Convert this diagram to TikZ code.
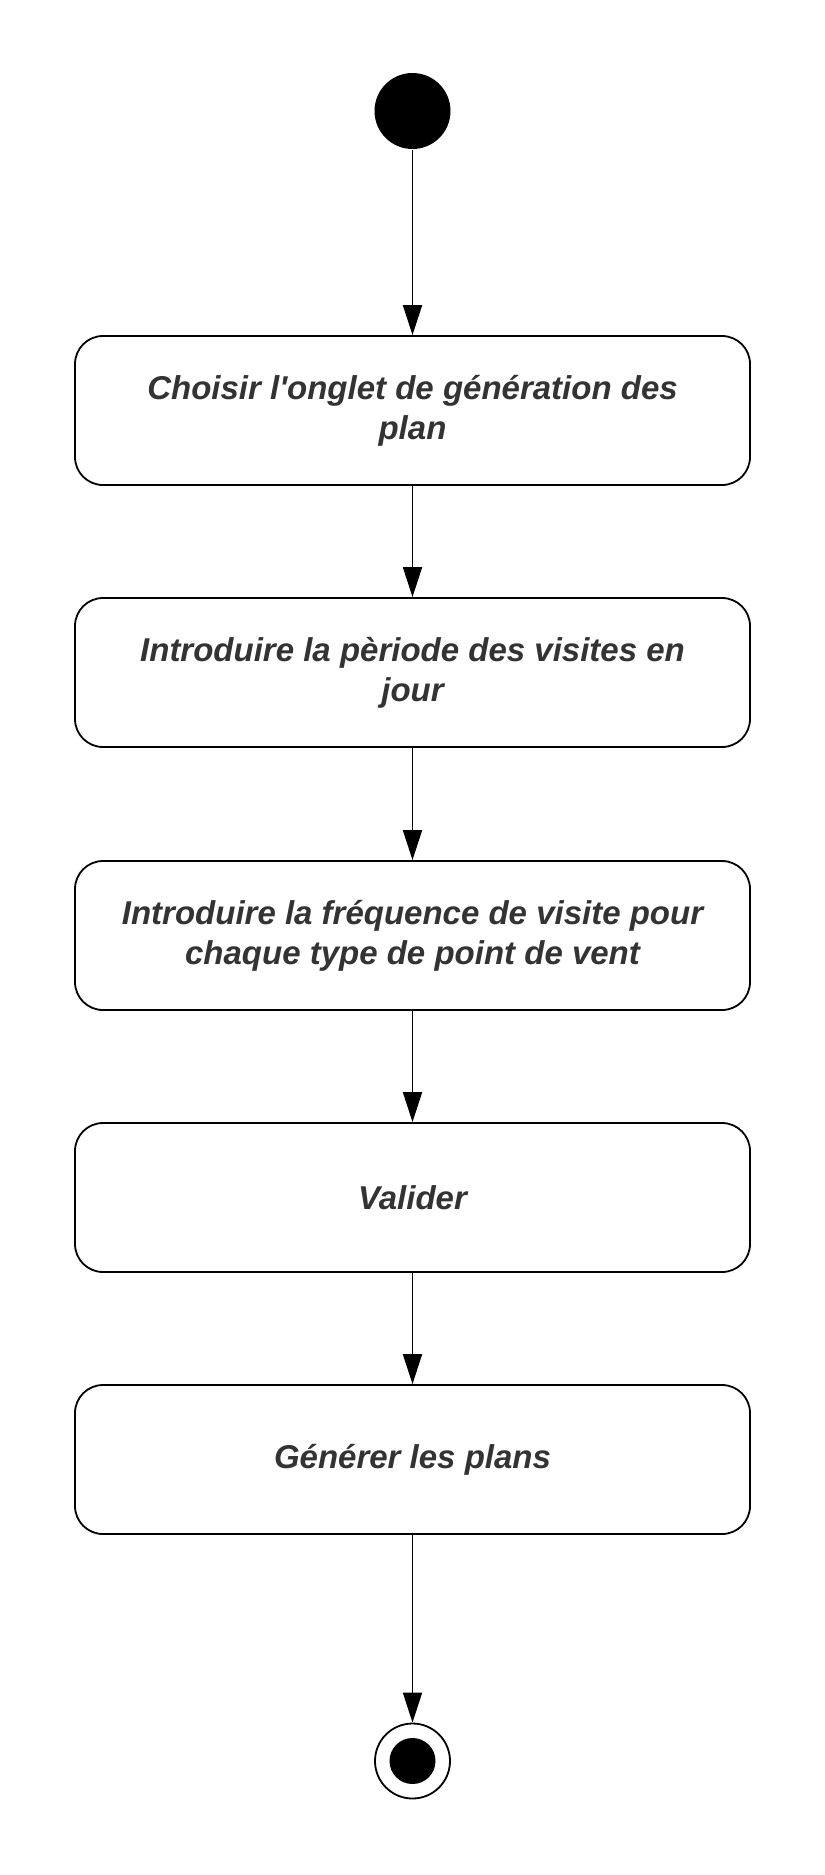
\documentclass[tikz,border=0pt]{standalone}
\usepackage{fontspec}
\setmainfont{Liberation Sans}
\usetikzlibrary{arrows.meta}
\definecolor{txtgray}{HTML}{333333}

\begin{document}
\begin{tikzpicture}[x=1pt,y=-1pt,line width=1.8pt,
  activity/.style={draw=black, rounded corners=28pt, minimum width=675pt, minimum height=149pt,
    align=center, text=txtgray, font=\fontsize{33}{40}\selectfont\bfseries\itshape, inner sep=0pt},
  flow/.style={-{Triangle[length=30pt,width=19pt]}}]
\useasboundingbox (0,0) rectangle (825,1875);
\node[circle, fill=black, minimum size=76pt, inner sep=0pt] (start) at (412.5,111) {};
\node[activity] (choisir) at (412.5,410.5) {Choisir l\textquotesingle onglet de génération des\\plan};
\node[activity] (periode) at (412.5,672.5) {Introduire la pèriode des visites en\\jour};
\node[activity] (frequence) at (412.5,935.5) {Introduire la fréquence de visite pour\\chaque type de point de vent};
\node[activity] (valider) at (412.5,1197.5) {Valider};
\node[activity] (generer) at (412.5,1459.5) {Générer les plans};
\node[circle, draw=black, minimum size=75pt, inner sep=0pt] (fin) at (412.5,1761) {};
\node[circle, fill=black, minimum size=46pt, inner sep=0pt] at (fin) {};
\draw[flow] (start) -- (choisir);
\draw[flow] (choisir) -- (periode);
\draw[flow] (periode) -- (frequence);
\draw[flow] (frequence) -- (valider);
\draw[flow] (valider) -- (generer);
\draw[flow] (generer) -- (fin);
\end{tikzpicture}
\end{document}
